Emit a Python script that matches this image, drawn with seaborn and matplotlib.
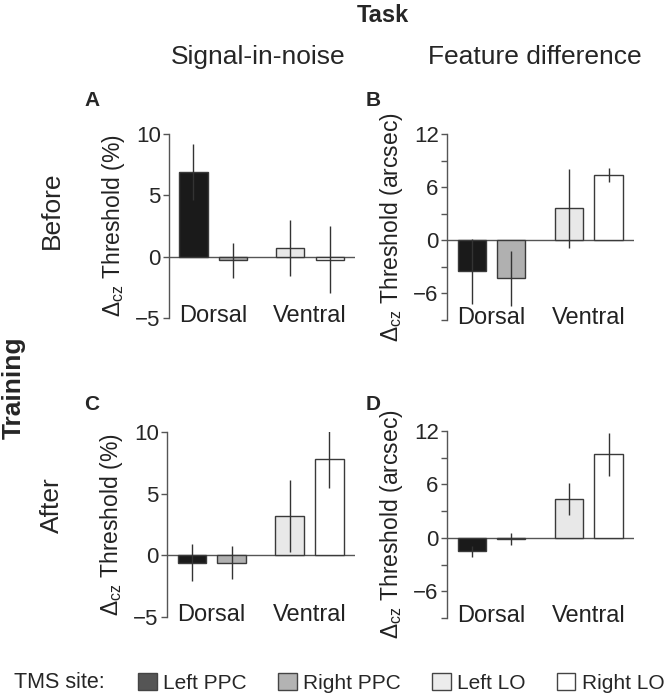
import pandas as pd
import matplotlib.pyplot as plt
import seaborn as sns
from matplotlib.patches import Patch
from matplotlib.ticker import MultipleLocator

# TMS sites (one bar each) and the anatomical group they belong to
sites = ['Left PPC', 'Right PPC', 'Left LO', 'Right LO']
groups = ['Dorsal', 'Ventral']

# A: signal-in-noise, before training
sn_before = [6.9, -0.3, 0.7, -0.25]
sn_before_err = [2.3, 1.45, 2.3, 2.75]
# B: feature difference, before training
fd_before = [-3.5, -4.3, 3.6, 7.4]
fd_before_err = [3.7, 3.1, 4.5, 0.8]
# C: signal-in-noise, after training
sn_after = [-0.6, -0.6, 3.2, 7.8]
sn_after_err = [1.5, 1.35, 2.9, 2.35]
# D: feature difference, after training
fd_after = [-1.5, -0.15, 4.4, 9.4]
fd_after_err = [0.6, 0.7, 1.8, 2.4]

# layout (bar positions, group label positions)
bar_x = [0, 1, 2.45, 3.45]
group_x = [0.5, 2.95]

bar_colors = ['#1a1a1a', '#b0b0b0', '#e8e8e8', '#ffffff']
legend_colors = ['#555555', '#b3b3b3', '#ececec', '#ffffff']
edge = '#3a3a3a'
axis_col = '#555555'

sns.set_style('white')
plt.rcParams['font.family'] = ['Liberation Sans', 'DejaVu Sans']
plt.rcParams['mathtext.fontset'] = 'custom'
plt.rcParams['mathtext.rm'] = 'Liberation Sans'
plt.rcParams['mathtext.it'] = 'Liberation Sans:italic'


def draw_panel(ax, vals, errs, ylim, major, minor, ylabel):
    df = pd.DataFrame({'x': bar_x, 'site': sites, 'val': vals})
    sns.barplot(data=df, x='x', y='val', hue='site', hue_order=sites,
                palette=bar_colors, native_scale=True, dodge=False, width=0.71,
                edgecolor=edge, linewidth=1, legend=False, errorbar=None, ax=ax)
    ax.errorbar(bar_x, vals, yerr=errs, fmt='none', ecolor='#333333',
                elinewidth=1, capsize=0, zorder=3)
    ax.axhline(0, color=axis_col, lw=1, zorder=0.5)
    ax.set_xlim(-0.62, 4.09)
    ax.set_ylim(*ylim)
    ax.yaxis.set_major_locator(MultipleLocator(major))
    if minor:
        ax.yaxis.set_minor_locator(MultipleLocator(minor))
    ax.set_xticks([])
    ax.set_xlabel('')
    for s in ['top', 'right', 'bottom']:
        ax.spines[s].set_visible(False)
    ax.spines['left'].set_color(axis_col)
    ax.spines['left'].set_linewidth(1)
    ax.tick_params(axis='y', which='both', direction='out', left=True,
                   color=axis_col, width=1, labelsize=16, pad=2, length=4)
    ax.set_yticklabels([('\u2212%d' % -t) if t < 0 else '%d' % t for t in ax.get_yticks()])
    ax.set_ylabel(r'$\Delta_{\rm cz}$ Threshold ' + ylabel, fontsize=16.5, color='#222222')
    ax.yaxis.set_label_coords(-0.225, 0.5)
    for gx, g in zip(group_x, groups):
        ax.text(gx, 0.01, g, transform=ax.get_xaxis_transform(),
                ha='center', va='center', fontsize=17, color='#222222')


W, H = 664, 698
fig = plt.figure(figsize=(W / 100, H / 100), dpi=100)


def add_ax(left, right, top, bottom):
    return fig.add_axes([left / W, 1 - bottom / H, (right - left) / W, (bottom - top) / H])


axA = add_ax(169, 355, 134, 318)
axB = add_ax(447, 634, 134, 320)
axC = add_ax(167, 355, 432, 617)
axD = add_ax(447, 634, 431, 618)

draw_panel(axA, sn_before, sn_before_err, (-5, 10), 5, None, '(%)')
draw_panel(axB, fd_before, fd_before_err, (-9, 12), 6, 3, '(arcsec)')
draw_panel(axC, sn_after, sn_after_err, (-5, 10), 5, None, '(%)')
draw_panel(axD, fd_after, fd_after_err, (-9, 12), 6, 3, '(arcsec)')

# panel letters
for lbl, x, y in [('A', 92, 101), ('B', 373, 101), ('C', 92, 405), ('D', 373, 405)]:
    fig.text(x / W, 1 - y / H, lbl, fontsize=15, fontweight='bold', ha='center', va='center')

# headers
fig.text(383 / W, 1 - 15 / H, 'Task', fontsize=17, fontweight='bold', ha='center', va='center')
fig.text(258 / W, 1 - 57 / H, 'Signal-in-noise', fontsize=19, ha='center', va='center')
fig.text(535 / W, 1 - 57 / H, 'Feature difference', fontsize=19, ha='center', va='center')
fig.text(14 / W, 1 - 388 / H, 'Training', fontsize=19, fontweight='bold', rotation=90,
         ha='center', va='center')
fig.text(52 / W, 1 - 210 / H, 'Before', fontsize=19, rotation=90, ha='center', va='center')
fig.text(52 / W, 1 - 505 / H, 'After', fontsize=19, rotation=90, ha='center', va='center')

# legend
fig.text(14 / W, 1 - 683 / H, 'TMS site:', fontsize=15.5, ha='left', va='center')
handles = [Patch(facecolor=c, edgecolor='#444444', linewidth=1) for c in legend_colors]
fig.legend(handles, sites, loc='center left', bbox_to_anchor=(138 / W, 1 - 683 / H),
           ncol=4, frameon=False, fontsize=15, handlelength=0.9, handleheight=0.9,
           handletextpad=0.3, columnspacing=1.5, borderpad=0, borderaxespad=0)

plt.savefig('out.png', dpi=100)
